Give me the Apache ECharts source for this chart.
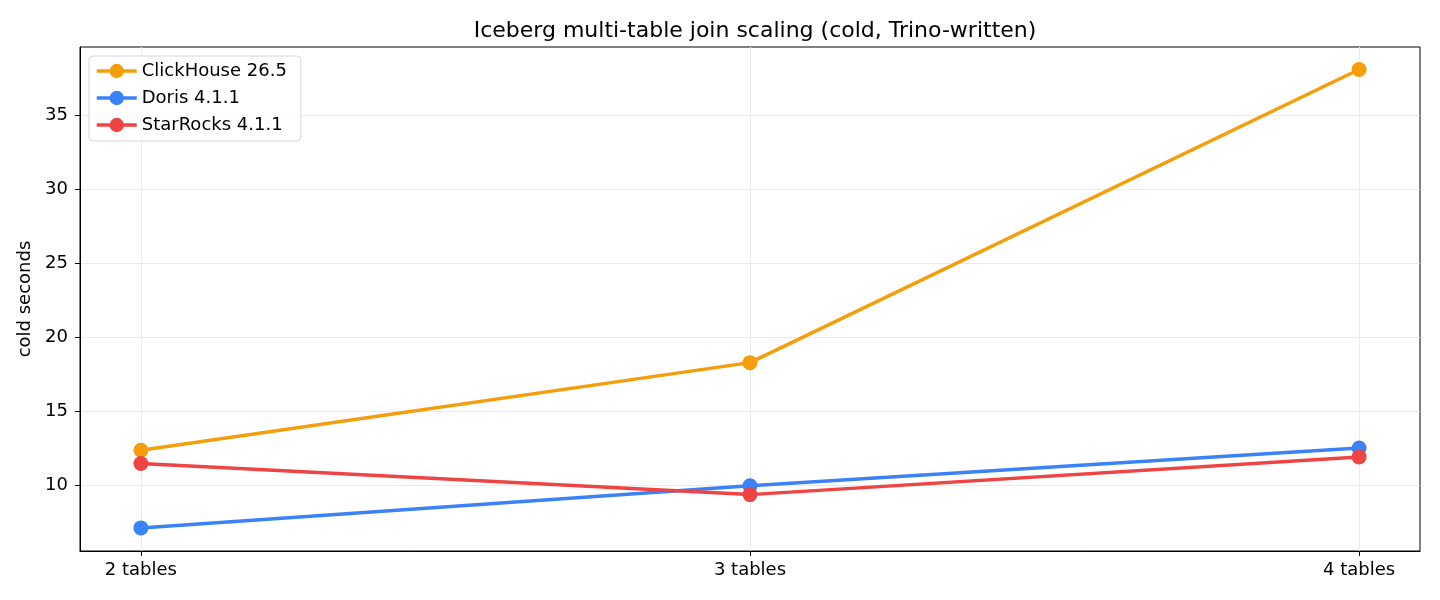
<!DOCTYPE html>
<html>
<head>
<meta charset="utf-8">
<script src="https://cdn.jsdelivr.net/npm/echarts@6/dist/echarts.min.js"></script>
<style>
  html, body { margin: 0; padding: 0; background: #fff; }
  #chart { width: 1440px; height: 600px; }
</style>
</head>
<body>
<div id="chart"></div>
<script>
// 数据
const categories = ['2 tables', '3 tables', '4 tables'];
const clickhouse = [12.35, 18.27, 38.08];
const doris = [7.1, 9.95, 12.5];
const starrocks = [11.45, 9.35, 11.9];
const yTicks = [10, 15, 20, 25, 30, 35];

const font = 'DejaVu Sans';

const toPoints = arr => arr.map((v, i) => [i, v]);

function makeSeries(name, data, color) {
  return {
    name,
    type: 'line',
    data: toPoints(data),
    symbol: 'circle',
    symbolSize: 15,
    color,
    lineStyle: { width: 3.5, color },
    itemStyle: { color },
    emphasis: { disabled: true }
  };
}

const chart = echarts.init(document.getElementById('chart'));
chart.setOption({
  animation: false,
  backgroundColor: '#fff',
  textStyle: { fontFamily: font },
  title: {
    text: 'Iceberg multi-table join scaling (cold, Trino-written)',
    left: 750, top: 15, textAlign: 'center',
    textStyle: { fontFamily: font, fontSize: 22, fontWeight: 'normal', color: '#000' }
  },
  grid: {
    left: 80, right: 20, top: 47, bottom: 49,
    show: true, borderColor: '#000', borderWidth: 1, backgroundColor: 'transparent'
  },
  legend: {
    orient: 'vertical',
    left: 89, top: 56,
    padding: [6, 14, 7, 6],
    itemGap: 9,
    itemWidth: 40, itemHeight: 18,
    lineStyle: { width: 3.5 },
    borderColor: '#d6d6d6', borderWidth: 1, borderRadius: 4,
    backgroundColor: 'rgba(255,255,255,0.8)',
    textStyle: { fontFamily: font, fontSize: 18, color: '#000' },
    data: ['ClickHouse 26.5', 'Doris 4.1.1', 'StarRocks 4.1.1']
  },
  xAxis: {
    type: 'value',
    min: -0.1, max: 2.1,
    axisLine: { show: true, onZero: false, lineStyle: { color: '#000' } },
    axisTick: { show: true, inside: false, customValues: [0, 1, 2], length: 5, lineStyle: { color: '#000' } },
    axisLabel: {
      customValues: [0, 1, 2],
      formatter: v => categories[Math.round(v)],
      fontFamily: font, fontSize: 18, color: '#000', margin: 10
    },
    splitLine: { show: true, lineStyle: { color: '#ebebeb', width: 1 } }
  },
  yAxis: {
    type: 'value',
    min: 5.54, max: 39.6,
    name: 'cold seconds',
    nameLocation: 'middle',
    nameGap: 40,
    nameTextStyle: { fontFamily: font, fontSize: 18, color: '#000' },
    axisLine: { show: true, onZero: false, lineStyle: { color: '#000' } },
    axisTick: { show: true, inside: false, customValues: yTicks, length: 5, lineStyle: { color: '#000' } },
    axisLabel: {
      customValues: yTicks,
      fontFamily: font, fontSize: 18, color: '#000', margin: 12
    },
    splitLine: { show: true, lineStyle: { color: '#ebebeb', width: 1 } }
  },
  series: [
    makeSeries('ClickHouse 26.5', clickhouse, '#f59e0b'),
    makeSeries('Doris 4.1.1', doris, '#3b82f6'),
    makeSeries('StarRocks 4.1.1', starrocks, '#ef4444')
  ]
});
</script>
</body>
</html>
